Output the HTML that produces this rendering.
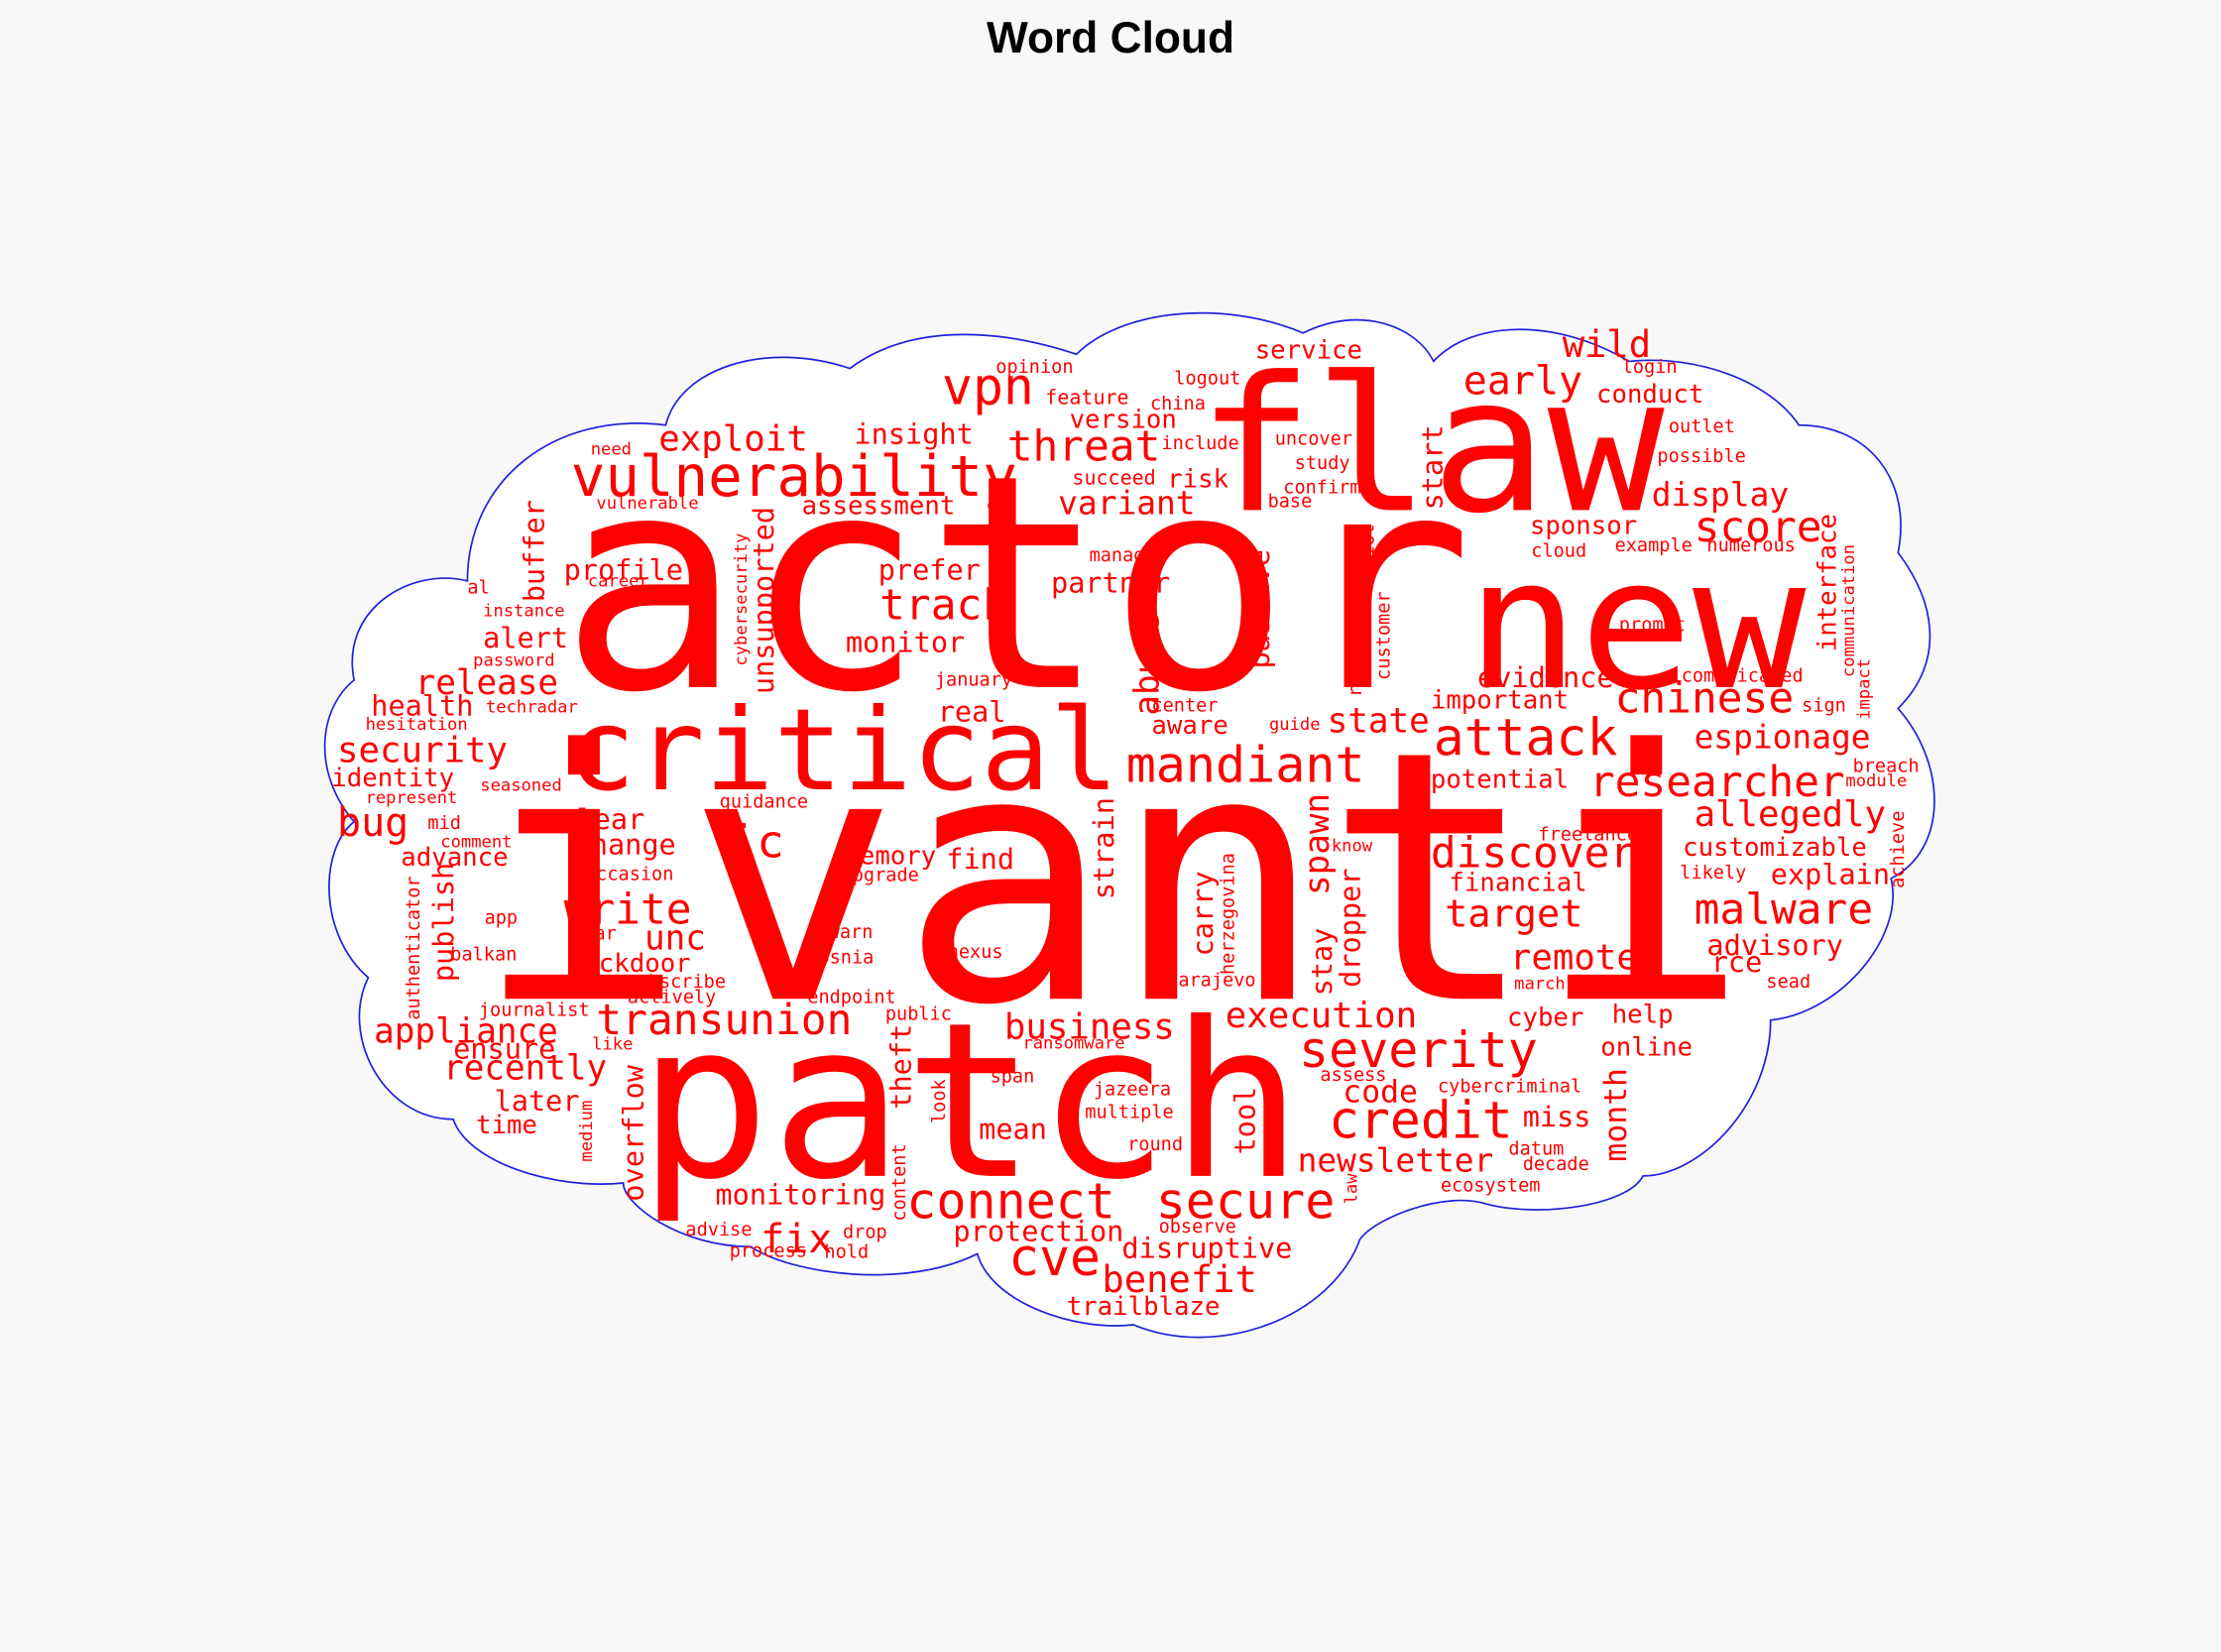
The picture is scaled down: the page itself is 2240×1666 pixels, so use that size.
<!DOCTYPE html>
<html><head><meta charset="utf-8"><style>
html,body{margin:0;padding:0;background:#f8f8f8;}
svg{display:block}
text{font-family:"DejaVu Sans Mono","Liberation Mono",monospace;fill:#ff0000;}
.t{font-family:"Liberation Sans",Arial,sans-serif;font-weight:bold;fill:#000;}
</style></head><body>
<svg width="2240" height="1666" viewBox="0 0 1568 1166" xmlns="http://www.w3.org/2000/svg">
<rect width="1568" height="1166" fill="#f8f8f8"/>
<text class="t" x="784" y="37" font-size="31" text-anchor="middle">Word Cloud</text>
<path d="M 250,480 C 240,430 290,400 330,410 C 330,340 390,290 470,300 C 480,260 540,240 600,260 C 640,230 700,230 760,250 C 790,220 860,210 920,235 C 960,215 1000,230 1012,255 C 1040,225 1100,225 1150,255 C 1200,250 1250,270 1270,300 C 1320,300 1350,340 1340,390 C 1370,430 1370,470 1340,500 C 1375,540 1375,600 1335,620 C 1345,660 1300,715 1250,720 C 1250,780 1200,830 1160,830 C 1150,850 1090,860 1050,850 C 1020,840 970,860 960,875 C 940,930 860,960 800,935 C 760,940 700,920 690,885 C 640,910 560,900 530,880 C 480,880 440,850 440,835 C 390,840 330,820 320,790 C 270,790 240,730 260,690 C 225,660 225,600 250,580 C 220,545 225,500 250,480 Z" fill="#ffffff" stroke="#2222dd" stroke-width="1.2"/>
<g>
<text x="335" y="705" font-size="245" textLength="900" lengthAdjust="spacingAndGlyphs">ivanti</text>
<text x="395" y="485" font-size="210" textLength="645" lengthAdjust="spacingAndGlyphs">actor</text>
<text x="450" y="830" font-size="152" textLength="470" lengthAdjust="spacingAndGlyphs">patch</text>
<text x="845" y="360" font-size="132" textLength="330" lengthAdjust="spacingAndGlyphs">flaw</text>
<text x="1035" y="485" font-size="128" textLength="240" lengthAdjust="spacingAndGlyphs">new</text>
<text x="400" y="557" font-size="80" textLength="390" lengthAdjust="spacingAndGlyphs">critical</text>
<text x="403" y="350" font-size="40" textLength="315" lengthAdjust="spacingAndGlyphs">vulnerability</text>
<text x="795" y="552" font-size="35">mandiant</text>
<text x="1012" y="533" font-size="36">attack</text>
<text x="640" y="860" font-size="35">connect</text>
<text x="816" y="860" font-size="35">secure</text>
<text x="917" y="753" font-size="35">severity</text>
<text x="938" y="803" font-size="36">credit</text>
<text x="1010" y="612" font-size="30">discover</text>
<text x="1122" y="562" font-size="30">researcher</text>
<text x="1140" y="503" font-size="30">chinese</text>
<text x="1196" y="652" font-size="30">malware</text>
<text x="421" y="730" font-size="30">transunion</text>
<text x="665" y="285" font-size="36">vpn</text>
<text x="711" y="325" font-size="30">threat</text>
<text x="621" y="437" font-size="30">track</text>
<text x="398" y="652" font-size="30">write</text>
<text x="712" y="900" font-size="36">cve</text>
<text x="1196" y="382" font-size="30">score</text>
<text x="1033" y="278" font-size="28">early</text>
<text x="1103" y="252" font-size="26">wild</text>
<text x="778" y="912" font-size="26">benefit</text>
<text x="465" y="318" font-size="25">exploit</text>
<text x="865" y="725" font-size="25">execution</text>
<text x="709" y="733" font-size="25">business</text>
<text x="1196" y="528" font-size="23">espionage</text>
<text x="1196" y="583" font-size="25">allegedly</text>
<text x="1020" y="654" font-size="27">target</text>
<text x="1066" y="684" font-size="25">remote</text>
<text x="293" y="490" font-size="24">release</text>
<text x="238" y="538" font-size="25">security</text>
<text x="238" y="590" font-size="28">bug</text>
<text x="264" y="736" font-size="24">appliance</text>
<text x="313" y="762" font-size="24">recently</text>
<text x="916" y="827" font-size="23">newsletter</text>
<text x="1166" y="357" font-size="23">display</text>
<text x="747" y="363" font-size="23">variant</text>
<text x="515" y="605" font-size="32">ic</text>
<text x="455" y="670" font-size="24">unc</text>
<text x="937" y="517" font-size="24">state</text>
<text x="537" y="884" font-size="28">fix</text>
<text x="505" y="850" font-size="20">monitoring</text>
<text x="673" y="876" font-size="20">protection</text>
<text x="792" y="888" font-size="20">disruptive</text>
<text x="753" y="928" font-size="18">trailblaze</text>
<text x="603" y="313" font-size="20">insight</text>
<text x="566" y="363" font-size="18">assessment</text>
<text x="620" y="409" font-size="20">prefer</text>
<text x="597" y="460" font-size="20">monitor</text>
<text x="662" y="509" font-size="20">real</text>
<text x="596" y="610" font-size="18">memory</text>
<text x="668" y="613" font-size="20">find</text>
<text x="398" y="409" font-size="20">profile</text>
<text x="341" y="457" font-size="20">alert</text>
<text x="262" y="505" font-size="20">health</text>
<text x="234" y="555" font-size="18">identity</text>
<text x="395" y="585" font-size="20">clear</text>
<text x="405" y="603" font-size="20">change</text>
<text x="283" y="611" font-size="18">advance</text>
<text x="401" y="686" font-size="18">backdoor</text>
<text x="320" y="747" font-size="20">ensure</text>
<text x="349" y="784" font-size="20">later</text>
<text x="336" y="800" font-size="18">time</text>
<text x="742" y="418" font-size="20">partner</text>
<text x="813" y="518" font-size="18">aware</text>
<text x="1010" y="556" font-size="18">potential</text>
<text x="1010" y="500" font-size="18">important</text>
<text x="1043" y="485" font-size="20">evidence</text>
<text x="1023" y="629" font-size="18">financial</text>
<text x="1205" y="674" font-size="20">advisory</text>
<text x="1208" y="686" font-size="20">rce</text>
<text x="1188" y="604" font-size="18">customizable</text>
<text x="1250" y="624" font-size="20">explain</text>
<text x="1064" y="724" font-size="18">cyber</text>
<text x="1138" y="722" font-size="18">help</text>
<text x="1130" y="745" font-size="18">online</text>
<text x="948" y="778" font-size="22">code</text>
<text x="1075" y="795" font-size="20">miss</text>
<text x="1080" y="377" font-size="18">sponsor</text>
<text x="1127" y="284" font-size="18">conduct</text>
<text x="886" y="253" font-size="18">service</text>
<text x="755" y="302" font-size="18">version</text>
<text x="691" y="804" font-size="20">mean</text>
<text x="738" y="285" font-size="14">feature</text>
<text x="703" y="263" font-size="13">opinion</text>
<text x="824" y="344" font-size="18">risk</text>
<text x="757" y="342" font-size="14">succeed</text>
<text x="820" y="317" font-size="13">include</text>
<text x="812" y="289" font-size="13">china</text>
<text x="829" y="271" font-size="13">logout</text>
<text x="900" y="314" font-size="13">uncover</text>
<text x="914" y="331" font-size="13">study</text>
<text x="906" y="348" font-size="13">confirm</text>
<text x="895" y="358" font-size="13">base</text>
<text x="1145" y="263" font-size="13">login</text>
<text x="1178" y="305" font-size="13">outlet</text>
<text x="1170" y="326" font-size="13">possible</text>
<text x="1140" y="389" font-size="13">example</text>
<text x="1205" y="389" font-size="13">numerous</text>
<text x="1081" y="393" font-size="13">cloud</text>
<text x="1143" y="445" font-size="13">prompt</text>
<text x="1187" y="481" font-size="13">complicated</text>
<text x="1272" y="502" font-size="13">sign</text>
<text x="1308" y="545" font-size="13">breach</text>
<text x="1303" y="555" font-size="12">module</text>
<text x="1086" y="593" font-size="13">freelance</text>
<text x="940" y="601" font-size="12">know</text>
<text x="1186" y="620" font-size="13">likely</text>
<text x="1247" y="697" font-size="13">sead</text>
<text x="1069" y="698" font-size="12">march</text>
<text x="1065" y="815" font-size="13">datum</text>
<text x="1075" y="826" font-size="13">decade</text>
<text x="1017" y="841" font-size="13">ecosystem</text>
<text x="1015" y="771" font-size="13">cybercriminal</text>
<text x="932" y="763" font-size="13">assess</text>
<text x="796" y="812" font-size="13">round</text>
<text x="766" y="789" font-size="13">multiple</text>
<text x="772" y="773" font-size="13">jazeera</text>
<text x="699" y="764" font-size="13">span</text>
<text x="722" y="740" font-size="12">ransomware</text>
<text x="625" y="720" font-size="13">public</text>
<text x="570" y="708" font-size="13">endpoint</text>
<text x="669" y="676" font-size="13">nexus</text>
<text x="585" y="662" font-size="13">warn</text>
<text x="570" y="680" font-size="13">bosnia</text>
<text x="594" y="622" font-size="13">upgrade</text>
<text x="413" y="621" font-size="13">occasion</text>
<text x="404" y="663" font-size="13">year</text>
<text x="318" y="678" font-size="13">balkan</text>
<text x="342" y="652" font-size="13">app</text>
<text x="311" y="598" font-size="12">comment</text>
<text x="302" y="585" font-size="13">mid</text>
<text x="258" y="567" font-size="12">represent</text>
<text x="339" y="558" font-size="12">seasoned</text>
<text x="508" y="570" font-size="13">guidance</text>
<text x="343" y="503" font-size="12">techradar</text>
<text x="258" y="515" font-size="12">hesitation</text>
<text x="334" y="470" font-size="12">password</text>
<text x="341" y="435" font-size="12">instance</text>
<text x="330" y="419" font-size="13">al</text>
<text x="415" y="414" font-size="12">career</text>
<text x="417" y="321" font-size="12">need</text>
<text x="421" y="359" font-size="12">vulnerable</text>
<text x="442" y="697" font-size="13">subscribe</text>
<text x="443" y="708" font-size="13">actively</text>
<text x="338" y="717" font-size="13">journalist</text>
<text x="418" y="741" font-size="12">like</text>
<text x="484" y="872" font-size="13">advise</text>
<text x="515" y="887" font-size="13">process</text>
<text x="582" y="888" font-size="13">hold</text>
<text x="595" y="874" font-size="13">drop</text>
<text x="818" y="870" font-size="13">observe</text>
<text x="769" y="396" font-size="13">manager</text>
<text x="813" y="502" font-size="13">center</text>
<text x="896" y="515" font-size="12">guide</text>
<text x="824" y="696" font-size="13">sarajevo</text>
<text x="660" y="484" font-size="13">january</text>
</g>
<g>
<text transform="translate(546,490) rotate(-90)" font-size="20">unsupported</text>
<text transform="translate(527,470) rotate(-90)" font-size="12">cybersecurity</text>
<text transform="translate(384,425) rotate(-90)" font-size="20">buffer</text>
<text transform="translate(818,505) rotate(-90)" font-size="24">abuse</text>
<text transform="translate(896,472) rotate(-90)" font-size="20">passive</text>
<text transform="translate(961,492) rotate(-90)" font-size="13">regulation</text>
<text transform="translate(981,480) rotate(-90)" font-size="13">customer</text>
<text transform="translate(970,393) rotate(-90)" font-size="13">iot</text>
<text transform="translate(1018,360) rotate(-90)" font-size="20">start</text>
<text transform="translate(1296,460) rotate(-90)" font-size="18">interface</text>
<text transform="translate(1309,478) rotate(-90)" font-size="12">communication</text>
<text transform="translate(1320,508) rotate(-90)" font-size="12">impact</text>
<text transform="translate(1344,627) rotate(-90)" font-size="13">achieve</text>
<text transform="translate(786,635) rotate(-90)" font-size="20">strain</text>
<text transform="translate(938,632) rotate(-90)" font-size="24">spawn</text>
<text transform="translate(871,688) rotate(-90)" font-size="13">herzegovina</text>
<text transform="translate(856,675) rotate(-90)" font-size="20">carry</text>
<text transform="translate(940,703) rotate(-90)" font-size="20">stay</text>
<text transform="translate(960,697) rotate(-90)" font-size="20">dropper</text>
<text transform="translate(320,693) rotate(-90)" font-size="20">publish</text>
<text transform="translate(296,720) rotate(-90)" font-size="13">authenticator</text>
<text transform="translate(454,848) rotate(-90)" font-size="20">overflow</text>
<text transform="translate(643,783) rotate(-90)" font-size="20">theft</text>
<text transform="translate(667,793) rotate(-90)" font-size="13">look</text>
<text transform="translate(639,862) rotate(-90)" font-size="13">content</text>
<text transform="translate(418,820) rotate(-90)" font-size="12">medium</text>
<text transform="translate(886,815) rotate(-90)" font-size="20">tool</text>
<text transform="translate(1148,820) rotate(-90)" font-size="22">month</text>
<text transform="translate(958,850) rotate(-90)" font-size="12">law</text>
</g>
</svg>
</body></html>
